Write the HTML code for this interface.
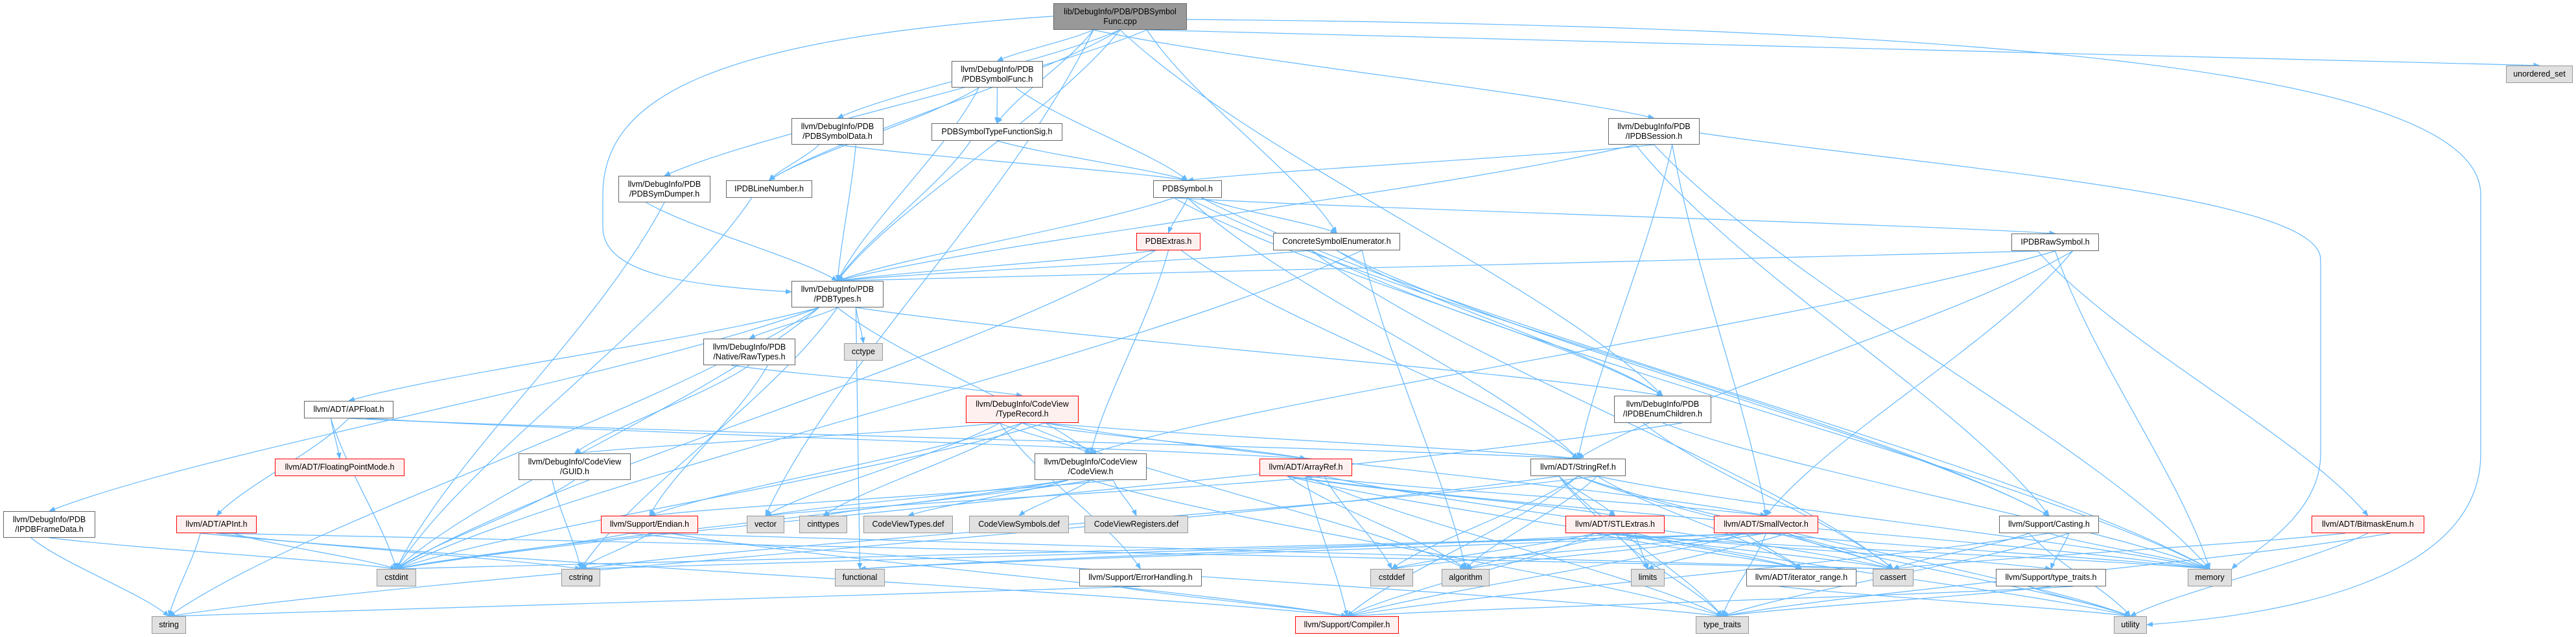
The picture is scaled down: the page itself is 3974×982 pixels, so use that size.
<!DOCTYPE html>
<html><head><meta charset="utf-8">
<style>
html,body{margin:0;padding:0;background:#fff;}
#c{position:relative;width:3974px;height:982px;overflow:hidden;}
svg{position:absolute;left:0;top:0;}
.n{position:absolute;box-sizing:border-box;border:1px solid #666;background:#fff;font-family:"Liberation Sans",Arial,sans-serif;font-size:12.5px;line-height:15px;color:#000;text-align:center;display:flex;flex-direction:column;justify-content:center;white-space:nowrap;}
.r{border-color:#f00;background:#fff0f0;}
.g{border-color:#999;background:#e0e0e0;}
.root{background:#999;border-color:#666;}
</style></head><body>
<div id="c">
<svg id="s" width="3974" height="982" xmlns="http://www.w3.org/2000/svg">
<defs><marker id="a" markerWidth="10" markerHeight="8" refX="9" refY="4" orient="auto" markerUnits="userSpaceOnUse"><path d="M0,0 L10,4 L0,8 z" fill="#63b8ff"/></marker></defs>
<g id="e" fill="none" stroke="#63b8ff" stroke-width="1.2"></g>
</svg>
<div class="n root" id="root" style="left:1625px;top:5px;width:206px;height:41px">lib/DebugInfo/PDB/PDBSymbol<br>Func.cpp</div>
<div class="n" id="sfunc" style="left:1468px;top:94px;width:141px;height:41px">llvm/DebugInfo/PDB<br>/PDBSymbolFunc.h</div>
<div class="n" id="sdata" style="left:1221px;top:182px;width:142px;height:41px">llvm/DebugInfo/PDB<br>/PDBSymbolData.h</div>
<div class="n" id="sdump" style="left:954px;top:271px;width:142px;height:41px">llvm/DebugInfo/PDB<br>/PDBSymDumper.h</div>
<div class="n" id="tfs" style="left:1437px;top:190px;width:202px;height:27px">PDBSymbolTypeFunctionSig.h</div>
<div class="n" id="lineno" style="left:1120px;top:278px;width:133px;height:27px">IPDBLineNumber.h</div>
<div class="n" id="psym" style="left:1779px;top:278px;width:106px;height:27px">PDBSymbol.h</div>
<div class="n r" id="extras" style="left:1753px;top:359px;width:99px;height:27px">PDBExtras.h</div>
<div class="n" id="cse" style="left:1964px;top:359px;width:196px;height:27px">ConcreteSymbolEnumerator.h</div>
<div class="n" id="session" style="left:2481px;top:182px;width:141px;height:41px">llvm/DebugInfo/PDB<br>/IPDBSession.h</div>
<div class="n g" id="uset" style="left:3866px;top:101px;width:103px;height:27px">unordered_set</div>
<div class="n" id="raw" style="left:3103px;top:360px;width:135px;height:27px">IPDBRawSymbol.h</div>
<div class="n" id="types" style="left:1221px;top:433px;width:142px;height:41px">llvm/DebugInfo/PDB<br>/PDBTypes.h</div>
<div class="n" id="rawtypes" style="left:1085px;top:522px;width:142px;height:41px">llvm/DebugInfo/PDB<br>/Native/RawTypes.h</div>
<div class="n g" id="cctype" style="left:1302px;top:529px;width:60px;height:27px">cctype</div>
<div class="n" id="apfloat" style="left:469px;top:618px;width:138px;height:27px">llvm/ADT/APFloat.h</div>
<div class="n r" id="fpm" style="left:424px;top:707px;width:200px;height:27px">llvm/ADT/FloatingPointMode.h</div>
<div class="n" id="guid" style="left:800px;top:699px;width:173px;height:41px">llvm/DebugInfo/CodeView<br>/GUID.h</div>
<div class="n" id="frame" style="left:5px;top:788px;width:142px;height:41px">llvm/DebugInfo/PDB<br>/IPDBFrameData.h</div>
<div class="n r" id="apint" style="left:272px;top:795px;width:124px;height:27px">llvm/ADT/APInt.h</div>
<div class="n r" id="endian" style="left:927px;top:795px;width:150px;height:27px">llvm/Support/Endian.h</div>
<div class="n g" id="cstdint" style="left:581px;top:877px;width:61px;height:27px">cstdint</div>
<div class="n g" id="cstring" style="left:866px;top:877px;width:60px;height:27px">cstring</div>
<div class="n g" id="string" style="left:234px;top:950px;width:53px;height:27px">string</div>
<div class="n r" id="typerec" style="left:1490px;top:610px;width:174px;height:42px">llvm/DebugInfo/CodeView<br>/TypeRecord.h</div>
<div class="n" id="codeview" style="left:1596px;top:699px;width:173px;height:41px">llvm/DebugInfo/CodeView<br>/CodeView.h</div>
<div class="n r" id="arrayref" style="left:1943px;top:707px;width:143px;height:27px">llvm/ADT/ArrayRef.h</div>
<div class="n g" id="vector" style="left:1152px;top:795px;width:58px;height:27px">vector</div>
<div class="n g" id="cinttypes" style="left:1233px;top:795px;width:74px;height:27px">cinttypes</div>
<div class="n g" id="cvt" style="left:1332px;top:795px;width:138px;height:27px">CodeViewTypes.def</div>
<div class="n g" id="cvs" style="left:1495px;top:795px;width:154px;height:27px">CodeViewSymbols.def</div>
<div class="n g" id="cvr" style="left:1673px;top:795px;width:160px;height:27px">CodeViewRegisters.def</div>
<div class="n g" id="functional" style="left:1288px;top:877px;width:77px;height:27px">functional</div>
<div class="n" id="errh" style="left:1665px;top:877px;width:189px;height:27px">llvm/Support/ErrorHandling.h</div>
<div class="n r" id="compiler" style="left:1998px;top:950px;width:160px;height:27px">llvm/Support/Compiler.h</div>
<div class="n" id="enumch" style="left:2490px;top:610px;width:150px;height:42px">llvm/DebugInfo/PDB<br>/IPDBEnumChildren.h</div>
<div class="n" id="stringref" style="left:2361px;top:707px;width:147px;height:27px">llvm/ADT/StringRef.h</div>
<div class="n r" id="stl" style="left:2415px;top:795px;width:153px;height:27px">llvm/ADT/STLExtras.h</div>
<div class="n r" id="smallvec" style="left:2644px;top:795px;width:161px;height:27px">llvm/ADT/SmallVector.h</div>
<div class="n g" id="cstddef" style="left:2114px;top:877px;width:66px;height:27px">cstddef</div>
<div class="n g" id="algorithm" style="left:2224px;top:877px;width:74px;height:27px">algorithm</div>
<div class="n g" id="limits" style="left:2516px;top:877px;width:52px;height:27px">limits</div>
<div class="n" id="iterrange" style="left:2694px;top:877px;width:170px;height:27px">llvm/ADT/iterator_range.h</div>
<div class="n g" id="cassert" style="left:2889px;top:877px;width:63px;height:27px">cassert</div>
<div class="n g" id="typetraits" style="left:2616px;top:950px;width:82px;height:27px">type_traits</div>
<div class="n" id="casting" style="left:3084px;top:795px;width:154px;height:27px">llvm/Support/Casting.h</div>
<div class="n r" id="bitmask" style="left:3566px;top:795px;width:174px;height:27px">llvm/ADT/BitmaskEnum.h</div>
<div class="n" id="stt" style="left:3079px;top:877px;width:170px;height:27px">llvm/Support/type_traits.h</div>
<div class="n g" id="memory" style="left:3375px;top:877px;width:68px;height:27px">memory</div>
<div class="n g" id="utility" style="left:3261px;top:950px;width:51px;height:27px">utility</div>
</div>
<script>
var E={
root:["sfunc","sdata","sdump","tfs","types","cse","session","enumch","uset","vector","lineno"],
sfunc:["lineno","tfs","psym","types"],
sdata:["lineno","psym","types"],
sdump:["types","cstdint"],
lineno:["cstdint"],
tfs:["types","psym"],
psym:["types","extras","cse","raw","casting","memory","enumch","stringref"],
extras:["types","codeview","stringref","cstdint"],
cse:["types","enumch","algorithm","memory","casting","cstdint","cassert"],
session:["types","psym","stringref","casting","memory","smallvec"],
raw:["types","codeview","smallvec","bitmask","memory","stringref"],
enumch:["cassert","memory","cstdint"],
types:["frame","rawtypes","cctype","apfloat","codeview","enumch","cstdint","cstring","functional","string"],
frame:["string","cstdint"],
rawtypes:["typerec","guid","endian"],
apfloat:["fpm","apint","arrayref","cstdint","stringref"],
apint:["string","cstring","cstdint","compiler","cassert"],
guid:["cstring","cstdint"],
endian:["cstdint","cstring","compiler","typetraits","cassert"],
typerec:["codeview","arrayref","stringref","guid","endian","cstdint","vector","cinttypes","smallvec","errh","algorithm"],
codeview:["cvt","cvs","cvr","vector","cinttypes","endian","cstdint","typetraits"],
arrayref:["stl","smallvec","cstddef","algorithm","compiler","cassert","memory","typetraits","vector","iterrange"],
errh:["compiler","string"],
stringref:["stl","cstddef","algorithm","limits","cassert","cstring","string","compiler","iterrange","typetraits","utility","memory"],
stl:["cstddef","algorithm","limits","iterrange","cassert","functional","compiler","typetraits","utility","memory","stt"],
smallvec:["compiler","typetraits","cassert","cstddef","algorithm","limits","iterrange","memory","utility","functional","cstring","cstdint"],
iterrange:["utility"],
casting:["cassert","memory","stt","utility","compiler","typetraits"],
stt:["utility","typetraits","compiler"],
bitmask:["cassert","utility","typetraits"]
};
function box(id){var d=document.getElementById(id);return {x:d.offsetLeft,y:d.offsetTop,w:d.offsetWidth,h:d.offsetHeight};}
var g=document.getElementById('e'),h='';
for(var s in E){var a=box(s);E[s].forEach(function(t,i){var b=box(t);
var sx=a.x+a.w/2,sy=a.y+a.h,tx=b.x+b.w/2,ty=b.y,p;
if(b.y>=a.y+a.h-2){var off=(i%3-1)*a.w*0.2;sx+=off;var dx=tx-sx,dy=ty-sy;
p='M'+sx+','+sy+' C'+(sx+dx*0.25)+','+(sy+dy*0.35)+' '+(tx-dx*0.2)+','+(ty-dy*0.3)+' '+tx+','+ty;}
else{var sy2=a.y+a.h/2,ex=(tx<sx)?b.x+b.w:b.x,ey=b.y+b.h/2;sx=(tx<sx)?a.x:a.x+a.w;
p='M'+sx+','+sy2+' L'+ex+','+ey;}
h+='<path d="'+p+'" marker-end="url(#a)"/>';});}
h+='<path d="M1831,30 C3000,40 3827,100 3827,300 L3827,700 C3827,900 3500,950 3312,963" marker-end="url(#a)"/>';
h+='<path d="M1625,25 C1100,60 930,150 930,300 L930,350 C930,420 1050,440 1221,450" marker-end="url(#a)"/>';
h+='<path d="M2622,205 C3000,260 3580,300 3580,400 L3580,700 C3580,800 3460,860 3443,877" marker-end="url(#a)"/>';
g.innerHTML=h;
</script>
</body></html>
